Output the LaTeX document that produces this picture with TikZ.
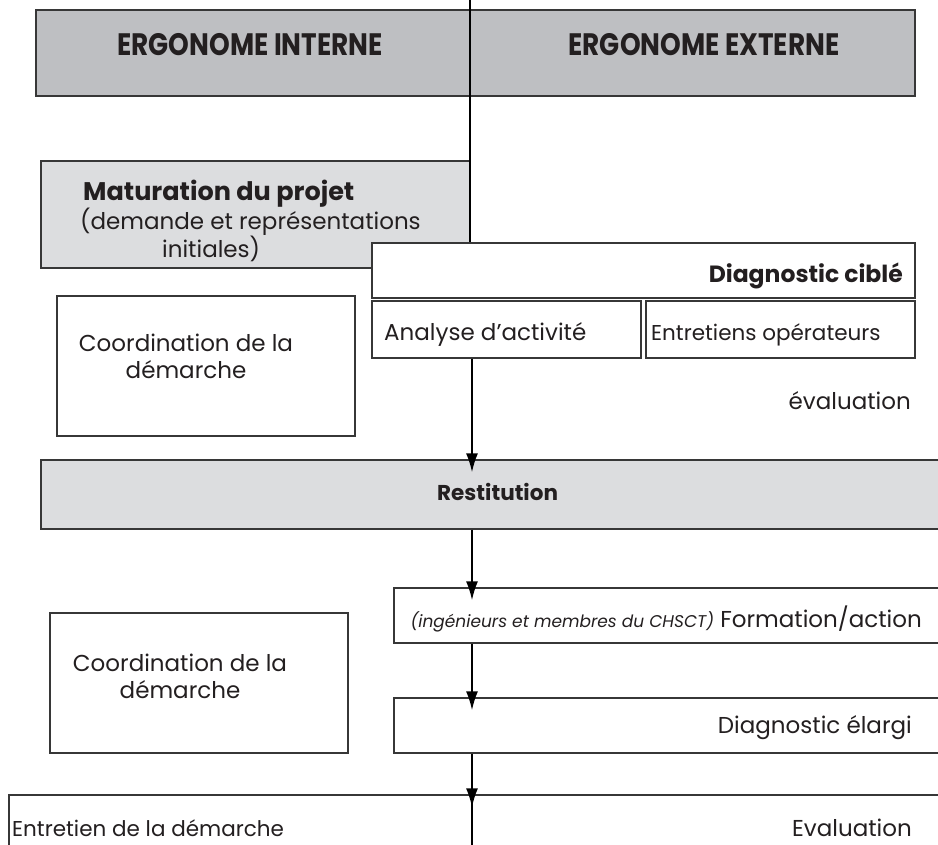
\documentclass[tikz,border=0pt]{standalone}
\usepackage{fontspec}
\usepackage{graphicx}
\setmainfont{Poppins}
\usetikzlibrary{arrows.meta}
\definecolor{hdrgray}{RGB}{190,191,194}
\definecolor{lgray}{RGB}{220,221,223}
\definecolor{edge}{RGB}{55,55,55}
\definecolor{ink}{RGB}{35,31,32}
\tikzset{
  rbox/.style={draw=edge, line width=1.3pt, inner sep=0pt, fill=white},
  flow/.style={draw=black, line width=1.8pt, -{Latex[length=19pt,width=12pt]}, shorten >=-13pt},
  spine/.style={draw=black, line width=1.8pt},
  txt/.style={text=ink, inner sep=0pt, font=\fontsize{23}{27}\selectfont},
  btxt/.style={text=ink, inner sep=0pt, font=\fontsize{21.5}{27}\selectfont\bfseries},
  hdrtxt/.style={text=ink, inner sep=0pt, font=\fontsize{31}{33}\selectfont\bfseries},
}
\begin{document}
\begin{tikzpicture}[x=1pt,y=-1pt]
\clip (0,0) rectangle (938,845);
\useasboundingbox (0,0) rectangle (938,845);
% boxes
\node[rbox, fill=hdrgray, minimum width=879pt, minimum height=86pt] (hdr) at (475.5,53) {};
\coordinate (vtop) at (470,0);
\node[rbox, fill=lgray, minimum width=429pt, minimum height=107pt] (mat) at (255.5,214.5) {};
\node[rbox, minimum width=543pt, minimum height=55pt] (diag) at (643.5,270.5) {};
\draw[spine] (vtop) -- (diag.north -| vtop);
\node[rbox, minimum width=269pt, minimum height=57pt] (ana) at (506.5,329.5) {};
\node[rbox, minimum width=269pt, minimum height=57pt] (ent) at (780.5,329.5) {};
\node[rbox, minimum width=298pt, minimum height=140pt] (coo1) at (206,366) {};
\node[rbox, fill=lgray, minimum width=909pt, minimum height=69pt] (rest) at (495.5,494.5) {};
\node[rbox, minimum width=556pt, minimum height=55pt] (form) at (672,615.5) {};
\node[rbox, minimum width=556pt, minimum height=55pt] (elar) at (672,725.5) {};
\node[rbox, minimum width=298pt, minimum height=140pt] (coo2) at (199,683) {};
\node[rbox, minimum width=941pt, minimum height=65pt] (bot) at (479.5,827.5) {};
% flow
\coordinate (ax) at (472,0);
\draw[flow] (ana.south -| ax) -- (rest.north -| ax);
\draw[flow] (rest.south -| ax) -- (form.north -| ax);
\draw[flow] (form.south -| ax) -- (elar.north -| ax);
\draw[flow] (elar.south -| ax) -- (bot.north -| ax);
\coordinate (bend) at (472,845);
\draw[spine] (bot.north -| ax) -- (bend);
% texts
\node[hdrtxt] (hl) at (250,45) {\scalebox{0.85}[1]{ERGONOME INTERNE}};
\node[hdrtxt] (hr) at (704,45) {\scalebox{0.85}[1]{ERGONOME EXTERNE}};
\node[txt, anchor=base west, align=left] (matT) at (80,258) {\hspace*{3pt}{\fontsize{25.5}{27}\selectfont\bfseries Maturation du projet}\\(demande et représentations\\\hspace*{82pt}initiales)};
\node[btxt, anchor=base east, font=\fontsize{23.5}{27}\selectfont\bfseries] (diagT) at (903,283) {Diagnostic ciblé};
\node[txt, anchor=base west] (anaT) at (384,341) {Analyse d’activité};
\node[txt, anchor=base west, font=\fontsize{21.5}{24}\selectfont] (entT) at (651,341) {Entretiens opérateurs};
\node[txt, align=center] (c1T) at (186,356) {Coordination de la\\démarche};
\node[txt, anchor=base east] (evT) at (911,409) {évaluation};
\node[btxt, anchor=base west] (restT) at (437,500) {Restitution};
\node[txt, anchor=base east] (formT) at (922,627) {{\fontsize{17}{20}\selectfont\itshape (ingénieurs et membres du CHSCT)} Formation/action};
\node[txt, anchor=base east] (elarT) at (912,733) {Diagnostic élargi};
\node[txt, align=center] (c2T) at (180,676) {Coordination de la\\démarche};
\node[txt, anchor=base west, font=\fontsize{21.5}{27}\selectfont] (botL) at (12,836) {Entretien de la démarche};
\node[txt, anchor=base east] (botR) at (912,836) {Evaluation};
\end{tikzpicture}
\end{document}
